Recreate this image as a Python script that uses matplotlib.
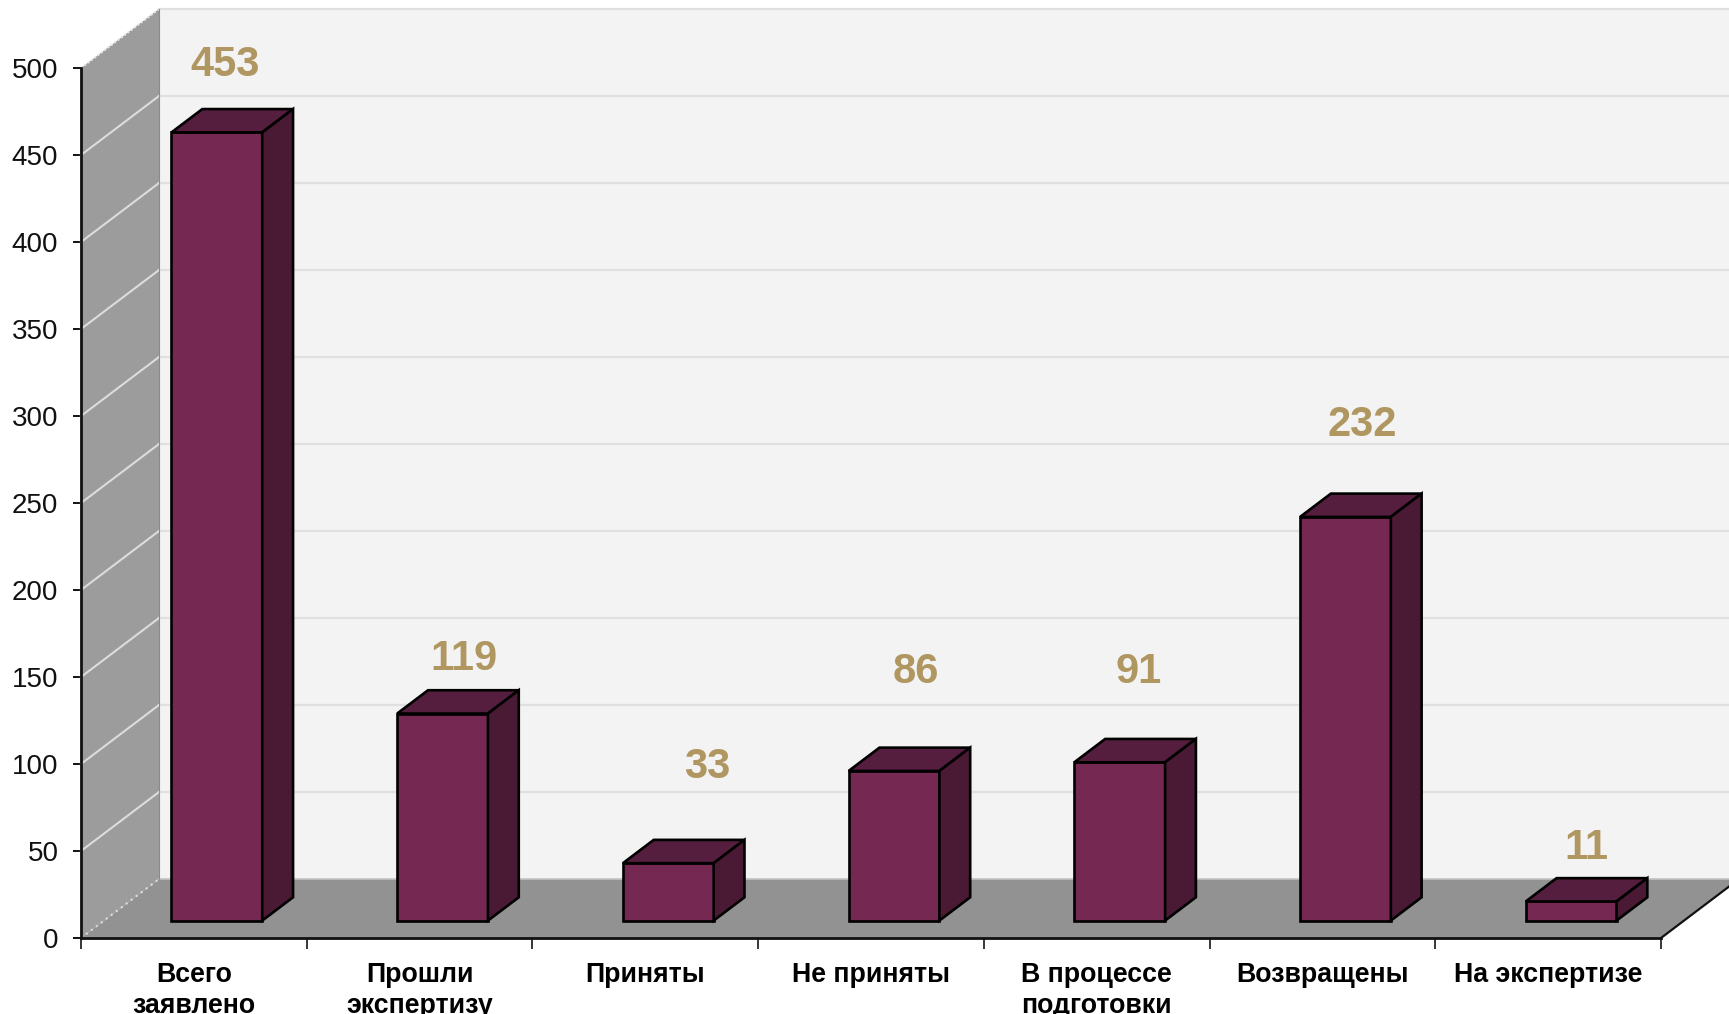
import numpy as np
import matplotlib
matplotlib.use("Agg")
import matplotlib.pyplot as plt

plt.rcParams['font.family'] = ['Liberation Sans', 'DejaVu Sans']

#%%==============================================================================
# Data

categories = ["Всего\nзаявлено", "Прошли\nэкспертизу", "Приняты", "Не приняты",
              "В процессе\nподготовки", "Возвращены", "На экспертизе"]
values = [453, 119, 33, 86, 91, 232, 11]
y_ticks = [0, 50, 100, 150, 200, 250, 300, 350, 400, 450, 500]

# label shift from the front top corner centre of each bar, in pixels
label_dx = [8, 21, 39, 22, 19, 17, 15]
label_dy = [67, 55, 96, 99, 90, 92, 53]

#%%==============================================================================
# Figure and axes, the axes box is the front plane of the 3D box

W, H = 1729, 1014
fig = plt.figure(figsize=(W / 100, H / 100), dpi=100, facecolor='white')
ax = fig.add_axes([81 / W, 1 - 938 / H, (1661 - 81) / W, (938 - 68) / H])
ax.set_xlim(0, 7)
ax.set_ylim(0, 500)
ax.patch.set_visible(False)

# depth of the box, in data units
x_per_px = 7 / (1661 - 81)
y_per_px = 500 / (938 - 68)
DX = 78 * x_per_px
DY = 59 * y_per_px


def proj(x, y, d):
    return x + d * DX, y + d * DY


def face(pts, **kw):
    xs, ys = zip(*[proj(*p) for p in pts])
    return ax.fill(xs, ys, clip_on=False, **kw)


#%%==============================================================================
# Walls and floor

face([(0, 500, 1), (7, 500, 1), (7, 0, 1), (0, 0, 1)], fc='#f3f3f3', ec='none', zorder=1)
face([(0, 0, 0), (0, 500, 0), (0, 500, 1), (0, 0, 1)], fc='#9c9c9c', ec='none', zorder=1)
face([(0, 0, 0), (7, 0, 0), (7, 0, 1), (0, 0, 1)], fc='#929292', ec='none', zorder=1)

for t in y_ticks[1:]:
    x0, y0 = proj(0, t, 0)
    x1, y1 = proj(0, t, 1)
    x2, y2 = proj(7, t, 1)
    if t < 500:
        ax.plot([x0, x1], [y0, y1], color='#dcdcdc', lw=1.5, clip_on=False, zorder=2)
    else:
        ax.plot([x0, x1], [y0, y1], color='#e6e6e6', lw=1.5, ls=(0, (1, 1)), clip_on=False, zorder=2)
    ax.plot([x1, x2], [y1, y2], color='#e0e0e0', lw=1.6, clip_on=False, zorder=2)

x0, y0 = proj(0, 0, 0)
x1, y1 = proj(0, 0, 1)
x2, y2 = proj(7, 0, 1)
ax.plot([x0, x1], [y0, y1], color='#dcdcdc', lw=1.5, ls=(0, (1, 2)), clip_on=False, zorder=2)
ax.plot([x1, x2], [y1, y2], color='#c4c4c4', lw=1.2, clip_on=False, zorder=2)
ax.plot([x1, x1], [500 + DY, y1], color='#8a8a8a', lw=0.8, clip_on=False, zorder=2)

# right edge of the floor
ax.plot(*zip(proj(7, 0, 0), proj(7, 0, 1)), color='#111111', lw=1.6, clip_on=False, zorder=2)

#%%==============================================================================
# Bars

bar_w = 0.402
d0 = 0.295
d1 = 0.69
for i, v in enumerate(values):
    left = i + 0.5 - bar_w / 2
    right = left + bar_w
    fx, fy = proj(left, 0, d0)
    ax.bar(fx, v, width=bar_w, bottom=fy, align='edge', color='#752952',
           edgecolor='black', linewidth=1.9, clip_on=False, zorder=4)
    face([(left, v, d0), (right, v, d0), (right, v, d1), (left, v, d1)],
         fc='#561e3e', ec='black', lw=1.9, zorder=4)
    face([(right, 0, d0), (right, v, d0), (right, v, d1), (right, 0, d1)],
         fc='#4a1a35', ec='black', lw=1.9, zorder=4)
    ax.annotate(str(v), xy=(fx + bar_w / 2, fy + v), xytext=(label_dx[i], label_dy[i]),
                textcoords='offset pixels', ha='center', va='center', fontsize=30,
                fontweight='bold', color='#b09660', zorder=5, annotation_clip=False)

#%%==============================================================================
# Axes

for s in ['top', 'right']:
    ax.spines[s].set_visible(False)
for s in ['left', 'bottom']:
    ax.spines[s].set_linewidth(2.0)
    ax.spines[s].set_color('#111111')
    ax.spines[s].set_zorder(6)

ax.set_yticks(y_ticks)
ax.tick_params(axis='y', length=5.8, width=1.3, pad=10.5, labelsize=20, labelcolor='#111111')
ax.set_xticks(np.arange(0, 8))
ax.set_xticklabels([])
ax.tick_params(axis='x', which='major', length=8, width=1.1)
ax.set_xticks(np.arange(7) + 0.5, labels=categories, minor=True)
ax.tick_params(axis='x', which='minor', length=0, pad=17.5, labelsize=19.3)
for lab in ax.get_xticklabels(minor=True):
    lab.set_fontweight('bold')
    lab.set_linespacing(1.25)

fig.savefig('out.png', dpi=100)
